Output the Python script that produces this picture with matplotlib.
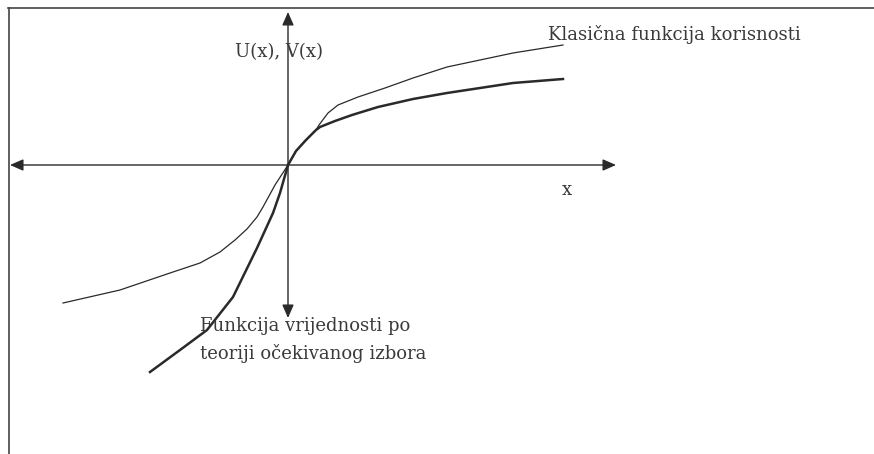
import matplotlib.pyplot as plt
from matplotlib.patches import FancyArrowPatch

# classical utility function U(x) (thin line)
u_x = [-225, -168, -118, -88, -68, -53, -41, -31, -25, -13, 0,
       8, 18, 28, 31, 40, 50, 70, 97, 125, 159, 225, 275]
u_y = [-138, -125, -108, -98, -87, -75, -64, -52, -42, -20, 0,
       14, 25, 35, 40, 52, 60, 68, 77, 87, 98, 112, 120]

# prospect theory value function V(x) (thick line)
v_x = [-138, -108, -81, -55, -31, -15, -8, 0,
       8, 18, 28, 32, 47, 64, 90, 125, 159, 225, 275]
v_y = [-207, -185, -165, -132, -83, -48, -28, 0,
       14, 25, 35, 38, 44, 50, 58, 66, 72, 82, 86]

# axis extents
x_axis = (-278, 328)
y_axis = (-153, 153)

ink = "#2a2a2a"
txt = "#3a3a3a"
plt.rcParams["font.family"] = ["DejaVu Serif"]

fig = plt.figure(figsize=(8.74, 4.54), dpi=100)
ax = fig.add_axes([0, 0, 1, 1])
ax.set_xlim(-288, 586)
ax.set_ylim(-289, 165)
ax.axis("off")

# frame along the left and top edge
ax.plot([-279.5, -279.5], [-289, 157], color="#444444", lw=1.2)
ax.plot([-280, 586], [157, 157], color="#444444", lw=1.2)

# axes with arrow heads on both ends
for start, end in [((x_axis[0], 0), (x_axis[1], 0)), ((0, y_axis[0]), (0, y_axis[1]))]:
    arrow = FancyArrowPatch(start, end, arrowstyle="<|-|>,head_length=8,head_width=3.5",
                            color=ink, lw=1.0, mutation_scale=1, shrinkA=0, shrinkB=0)
    ax.add_patch(arrow)

ax.plot(u_x, u_y, color=ink, lw=0.9)
ax.plot(v_x, v_y, color=ink, lw=1.8)

ax.text(260, 130, "Klasična funkcija korisnosti", fontsize=13, color=txt, ha="left", va="center")
ax.text(-53, 113, "U(x), V(x)", fontsize=13, color=txt, ha="left", va="center")
ax.text(279, -25, "x", fontsize=13, color=txt, ha="center", va="center")
ax.text(-88, -152, "Funkcija vrijednosti po\nteoriji očekivanog izbora", fontsize=13,
        color=txt, ha="left", va="top", linespacing=1.6)

fig.savefig("out.png", dpi=100)
